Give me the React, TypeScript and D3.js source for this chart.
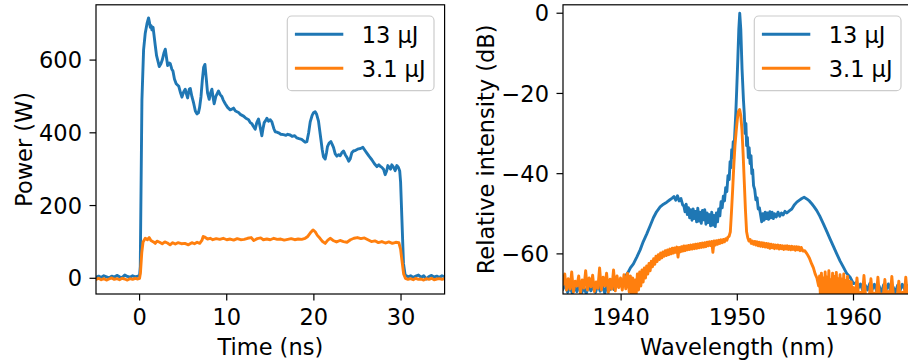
import React from 'react';
import * as d3 from 'd3';

// ---------- data ----------
const timeTicks = [0, 10, 20, 30];
const powerTicks = [0, 200, 400, 600];
const wlTicks = [1940, 1950, 1960];
const dbTicks = [0, -20, -40, -60];
const legendLabels = ['13 μJ', '3.1 μJ'];
const seriesColors = ['#1f77b4', '#ff7f0e'];

// time (ns), power (W) — 13 µJ
const pulseHigh: [number, number][] = [
  [-5, 3], [-4.7, 6], [-4.4, 2], [-4.1, 7], [-3.8, 4], [-3.5, 1], [-3.2, 6], [-2.9, 3], [-2.6, 8], [-2.3, 4],
  [-2.0, 2], [-1.7, 9], [-1.4, 5], [-1.1, 3], [-0.8, 7], [-0.5, 4], [-0.2, 6], [0.0, 8], [0.08, 32], [0.27, 491],
  [0.46, 628], [0.65, 674], [0.85, 700], [1.03, 716], [1.12, 705], [1.23, 690], [1.32, 695], [1.42, 683], [1.55, 690], [1.65, 670],
  [1.8, 640], [1.95, 612], [2.1, 598], [2.26, 582], [2.45, 590], [2.6, 600], [2.8, 620], [2.95, 630], [3.1, 605], [3.22, 585],
  [3.4, 592], [3.52, 590], [3.7, 575], [3.83, 570], [4.0, 548], [4.2, 535], [4.5, 528], [4.7, 510], [4.86, 498], [5.05, 512],
  [5.24, 520], [5.4, 505], [5.51, 496], [5.7, 520], [5.82, 522], [6.0, 500], [6.2, 482], [6.4, 460], [6.58, 452], [6.75, 455],
  [6.89, 470], [7.05, 500], [7.2, 545], [7.35, 580], [7.5, 588], [7.65, 550], [7.8, 510], [7.99, 492], [8.15, 510], [8.3, 520],
  [8.45, 495], [8.56, 480], [8.75, 500], [9.06, 515], [9.25, 505], [9.44, 500], [9.6, 490], [9.83, 480], [10.1, 470], [10.4, 463],
  [10.6, 465], [10.78, 468], [11.0, 460], [11.36, 456], [11.6, 450], [11.93, 446], [12.2, 440], [12.51, 436], [12.7, 428], [12.89, 425],
  [13.05, 418], [13.27, 410], [13.45, 428], [13.65, 438], [13.8, 420], [14.03, 392], [14.15, 410], [14.3, 428], [14.5, 435], [14.61, 440],
  [14.8, 432], [15.0, 436], [15.18, 430], [15.4, 412], [15.56, 403], [15.75, 402], [15.95, 400], [16.2, 396], [16.52, 395], [16.8, 393],
  [17.0, 396], [17.28, 394], [17.5, 390], [17.8, 392], [18.05, 386], [18.3, 384], [18.6, 382], [18.81, 378], [19.0, 374], [19.2, 376],
  [19.4, 400], [19.58, 430], [19.8, 448], [19.96, 455], [20.15, 458], [20.3, 452], [20.53, 432], [20.65, 410], [20.8, 383], [20.95, 355],
  [21.1, 334], [21.3, 328], [21.45, 345], [21.56, 362], [21.75, 372], [21.95, 376], [22.1, 368], [22.25, 360], [22.45, 342], [22.64, 336],
  [22.85, 340], [23.02, 337], [23.2, 345], [23.4, 350], [23.6, 340], [23.78, 333], [24.0, 322], [24.16, 328], [24.35, 345], [24.54, 350],
  [24.8, 352], [25.12, 356], [25.35, 357], [25.62, 360], [25.85, 352], [26.08, 344], [26.35, 335], [26.65, 326], [26.95, 315], [27.23, 307],
  [27.45, 312], [27.61, 308], [27.8, 305], [27.99, 300], [28.18, 285], [28.35, 295], [28.49, 310], [28.65, 305], [28.8, 300], [28.94, 312],
  [29.15, 305], [29.33, 296], [29.52, 310], [29.7, 305], [29.85, 295], [29.95, 265], [30.09, 170], [30.28, 41], [30.47, 9], [30.8, 4],
  [31.1, 7], [31.4, 2], [31.7, 6], [32.0, 9], [32.3, 3], [32.6, 7], [32.9, -2], [33.2, 5], [33.5, 8], [33.8, 3],
  [34.1, 6], [34.4, 2], [34.7, 7], [35, 4],
];

// time (ns), power (W) — 3.1 µJ
const pulseLow: [number, number][] = [
  [-5, -3], [-4.7, 0], [-4.4, -4], [-4.1, -1], [-3.8, -5], [-3.5, -2], [-3.2, 1], [-2.9, -3], [-2.6, -1], [-2.3, -4],
  [-2.0, 0], [-1.7, -2], [-1.4, -5], [-1.1, -1], [-0.8, -3], [-0.5, 0], [-0.2, -2], [0.0, 0], [0.1, 15], [0.25, 70],
  [0.4, 100], [0.65, 110], [0.9, 106], [1.1, 112], [1.3, 104], [1.6, 100], [1.8, 96], [2.0, 102], [2.3, 99], [2.6, 95],
  [2.9, 100], [3.2, 97], [3.5, 92], [3.8, 98], [4.1, 94], [4.4, 98], [4.8, 95], [5.2, 96], [5.6, 92], [6.0, 98],
  [6.3, 95], [6.6, 99], [6.9, 96], [7.15, 104], [7.3, 115], [7.5, 113], [7.8, 108], [8.1, 110], [8.4, 106], [8.8, 109],
  [9.2, 107], [9.6, 110], [10.0, 106], [10.4, 108], [10.8, 105], [11.2, 109], [11.6, 106], [12.0, 107], [12.4, 110], [12.8, 112],
  [13.1, 104], [13.5, 109], [13.9, 111], [14.2, 106], [14.6, 108], [15.0, 106], [15.4, 110], [15.8, 107], [16.2, 108], [16.6, 105],
  [17.0, 107], [17.4, 109], [17.8, 106], [18.2, 108], [18.6, 107], [19.0, 110], [19.3, 115], [19.6, 125], [19.9, 133], [20.15, 128],
  [20.4, 118], [20.7, 110], [21.0, 101], [21.3, 96], [21.6, 105], [21.9, 110], [22.2, 104], [22.6, 100], [23.0, 104], [23.4, 101],
  [23.8, 99], [24.2, 106], [24.6, 110], [25.0, 112], [25.4, 109], [25.8, 111], [26.2, 106], [26.6, 101], [27.0, 103], [27.4, 98],
  [27.8, 101], [28.2, 97], [28.6, 100], [29.0, 96], [29.4, 99], [29.75, 98], [29.95, 80], [30.1, 50], [30.3, 12], [30.5, 0],
  [30.8, -3], [31.1, -1], [31.4, -4], [31.7, 0], [32.0, -3], [32.3, -2], [32.6, -5], [32.9, -1], [33.2, -3], [33.5, 0],
  [33.8, -4], [34.1, -2], [34.4, -1], [34.7, -3], [35, -1],
];

// wavelength (nm), relative intensity (dB) — 13 µJ
const specHigh: [number, number][] = [
  [1935, -68.8], [1935.2, -67.6], [1935.4, -69.6], [1935.6, -68.2], [1935.8, -69.8], [1936, -68.0], [1936.2, -69.4], [1936.4, -67.8],
  [1936.6, -69.7], [1936.8, -68.4], [1937, -69.9], [1937.2, -67.9], [1937.4, -69.2], [1937.6, -68.1], [1937.8, -69.6], [1938, -67.7],
  [1938.2, -69.3], [1938.4, -68.0], [1938.6, -69.8], [1938.8, -67.8], [1939, -69.0], [1939.2, -67.6], [1939.4, -68.9], [1939.6, -67.3],
  [1939.8, -68.2], [1940, -66.9], [1940.2, -66.6], [1940.4, -65.4], [1940.6, -64.6], [1940.8, -63.5], [1941.06, -62.5], [1941.35, -60.8],
  [1941.64, -59], [1941.9, -57], [1942.21, -55], [1942.5, -53], [1942.78, -51], [1943.05, -49.5], [1943.36, -48.3], [1943.65, -47.6],
  [1943.93, -47.1], [1944.2, -46.5], [1944.4, -46.1], [1944.55, -45.7], [1944.7, -46.6], [1944.85, -45.5], [1945.0, -46.8], [1945.15, -46.2],
  [1945.3, -47.8], [1945.4, -48.0], [1945.5, -49.5], [1945.6, -47.6], [1945.7, -50.2], [1945.8, -48.5], [1945.9, -51.0], [1946.0, -49.0],
  [1946.1, -51.6], [1946.2, -48.8], [1946.3, -51.2], [1946.4, -49.4], [1946.5, -52.0], [1946.6, -48.6], [1946.7, -51.8], [1946.8, -49.6],
  [1946.9, -52.4], [1947.0, -49.2], [1947.1, -51.5], [1947.2, -49.0], [1947.3, -52.6], [1947.4, -49.8], [1947.5, -52.2], [1947.6, -50.2],
  [1947.7, -53.0], [1947.8, -49.6], [1947.9, -52.8], [1948.0, -50.4], [1948.1, -53.2], [1948.2, -49.8], [1948.3, -52.0], [1948.4, -48.8],
  [1948.5, -50.5], [1948.6, -47.0], [1948.7, -48.5], [1948.8, -45.6], [1948.9, -46.8], [1949.0, -43.5], [1949.1, -44.5], [1949.2, -40.5],
  [1949.3, -41.5], [1949.38, -37.0], [1949.45, -38.5], [1949.52, -34.0], [1949.58, -36.0], [1949.65, -32.0], [1949.72, -34.0], [1949.8, -29.0],
  [1949.87, -25.0], [1949.95, -19], [1950.05, -11], [1950.13, -4], [1950.21, 0], [1950.3, -4], [1950.41, -14], [1950.53, -21.7],
  [1950.6, -25], [1950.67, -30], [1950.74, -27.5], [1950.8, -33], [1950.87, -31], [1950.95, -36], [1951.02, -33.5], [1951.1, -37.5],
  [1951.18, -35.5], [1951.25, -40], [1951.32, -39], [1951.4, -43], [1951.5, -44.0], [1951.6, -46.5], [1951.7, -46.0], [1951.8, -48.8],
  [1951.9, -48.5], [1952.0, -50.2], [1952.1, -52.0], [1952.2, -50.0], [1952.3, -51.6], [1952.4, -49.6], [1952.5, -51.2], [1952.6, -49.8],
  [1952.7, -51.4], [1952.8, -49.5], [1952.9, -51.0], [1953.0, -49.6], [1953.1, -51.2], [1953.2, -50.0], [1953.35, -50.8], [1953.5, -49.6],
  [1953.65, -50.6], [1953.8, -49.8], [1953.95, -50.3], [1954.1, -49.4], [1954.26, -49.8], [1954.5, -49.2], [1954.69, -48.8], [1954.9, -47.8],
  [1955.12, -47.1], [1955.35, -46.6], [1955.55, -46.2], [1955.75, -45.9], [1955.98, -46.3], [1956.2, -46.8], [1956.41, -47.5], [1956.6, -48.2],
  [1956.84, -49.2], [1957.1, -50.6], [1957.41, -52.5], [1957.7, -54.4], [1957.99, -56.3], [1958.3, -58.3], [1958.56, -60], [1958.85, -61.8],
  [1959.13, -63.3], [1959.4, -64.8], [1959.71, -65.8], [1959.99, -67.4], [1960.2, -67.2], [1960.4, -68.6], [1960.6, -67.5], [1960.8, -69.2],
  [1961.0, -67.8], [1961.2, -69.0], [1961.4, -67.4], [1961.6, -68.9], [1961.8, -67.6], [1962.0, -69.4], [1962.2, -68.0], [1962.4, -69.7],
  [1962.6, -67.7], [1962.8, -69.0], [1963.0, -67.5], [1963.2, -69.3], [1963.4, -68.2], [1963.6, -69.6], [1963.8, -67.8], [1964.0, -69.1],
  [1964.2, -67.6], [1964.4, -68.8], [1964.6, -67.9], [1964.8, -69.2], [1965, -68.4],
];

// wavelength (nm), relative intensity (dB) — 3.1 µJ
const specLow: [number, number][] = [
  [1935, -67.5], [1935.15, -65.0], [1935.3, -69.0], [1935.45, -66.2], [1935.6, -68.8], [1935.75, -64.5], [1935.9, -69.5], [1936.05, -66.8],
  [1936.2, -68.0], [1936.35, -65.5], [1936.5, -69.8], [1936.65, -66.5], [1936.8, -68.5], [1936.95, -64.2], [1937.1, -69.0], [1937.25, -66.0],
  [1937.4, -68.2], [1937.55, -65.3], [1937.7, -69.4], [1937.85, -67.0], [1938, -68.6], [1938.15, -63.5], [1938.3, -69.0], [1938.45, -65.8],
  [1938.6, -68.0], [1938.75, -64.8], [1938.9, -69.6], [1939.05, -66.3], [1939.2, -68.8], [1939.35, -64.0], [1939.5, -69.2], [1939.65, -65.5],
  [1939.8, -68.4], [1939.95, -66.0], [1940.1, -69.0], [1940.25, -65.2], [1940.4, -68.7], [1940.55, -64.8], [1940.7, -69.5], [1940.8, -65.5],
  [1940.9, -70.5], [1941.0, -66.0], [1941.1, -71], [1941.2, -66.5], [1941.3, -70], [1941.4, -65.0], [1941.5, -69], [1941.6, -64.5],
  [1941.7, -68], [1941.8, -64.0], [1941.9, -67], [1942.0, -63.5], [1942.1, -66.0], [1942.2, -63.0], [1942.3, -65.0], [1942.4, -62.4],
  [1942.5, -64.2], [1942.6, -61.8], [1942.7, -63.2], [1942.8, -61.2], [1942.9, -62.6], [1943.0, -60.6], [1943.1, -61.9], [1943.2, -60.2],
  [1943.3, -61.4], [1943.4, -59.8], [1943.5, -61.0], [1943.6, -59.5], [1943.7, -60.6], [1943.8, -59.2], [1943.9, -60.4], [1944.0, -59.0],
  [1944.1, -60.2], [1944.2, -58.8], [1944.3, -60.0], [1944.4, -58.6], [1944.5, -59.8], [1944.6, -58.5], [1944.7, -59.6], [1944.8, -58.3],
  [1944.9, -60.8], [1945.0, -58.4], [1945.1, -59.5], [1945.2, -58.2], [1945.3, -59.3], [1945.4, -58.0], [1945.5, -59.2], [1945.6, -58.0],
  [1945.7, -59.0], [1945.8, -57.9], [1945.9, -58.9], [1946.0, -57.8], [1946.1, -58.8], [1946.2, -57.7], [1946.3, -58.7], [1946.4, -57.6],
  [1946.5, -58.6], [1946.6, -57.5], [1946.7, -58.5], [1946.8, -57.4], [1946.9, -58.4], [1947.0, -57.3], [1947.1, -58.3], [1947.2, -57.2],
  [1947.3, -58.2], [1947.4, -57.1], [1947.5, -58.0], [1947.6, -57.0], [1947.7, -57.9], [1947.8, -56.9], [1947.9, -59.6], [1948.0, -56.8],
  [1948.1, -57.8], [1948.2, -56.7], [1948.3, -57.6], [1948.4, -56.6], [1948.5, -57.4], [1948.6, -56.5], [1948.7, -57.2], [1948.8, -56.4],
  [1948.9, -57.0], [1949.0, -56.2], [1949.1, -56.6], [1949.2, -55.8], [1949.3, -55.6], [1949.4, -54.5], [1949.5, -49.5],
  [1949.6, -44], [1949.7, -38], [1949.8, -33], [1949.9, -29.5], [1950.0, -26.5], [1950.1, -24.5], [1950.2, -24.0], [1950.3, -25.5],
  [1950.4, -29], [1950.5, -35], [1950.6, -42], [1950.7, -49], [1950.8, -54.5], [1950.9, -56.0], [1951.0, -56.8], [1951.1, -56.4],
  [1951.2, -57.4], [1951.3, -56.8], [1951.4, -57.6], [1951.5, -56.9], [1951.6, -57.8], [1951.7, -57.0], [1951.8, -58.0], [1951.9, -57.1],
  [1952.0, -58.1], [1952.1, -57.2], [1952.2, -58.2], [1952.3, -57.3], [1952.4, -58.3], [1952.5, -57.4], [1952.6, -58.4], [1952.7, -57.5],
  [1952.8, -58.6], [1952.9, -57.6], [1953.0, -58.5], [1953.1, -57.7], [1953.2, -58.7], [1953.3, -57.8], [1953.4, -58.6], [1953.5, -57.8],
  [1953.6, -58.8], [1953.7, -57.9], [1953.8, -58.7], [1953.9, -58.0], [1954.0, -58.9], [1954.1, -58.0], [1954.2, -58.8], [1954.3, -58.0],
  [1954.4, -58.9], [1954.5, -58.1], [1954.6, -59.0], [1954.7, -58.1], [1954.8, -58.9], [1954.9, -58.2], [1955.0, -59.1], [1955.1, -58.2],
  [1955.2, -59.0], [1955.3, -58.3], [1955.4, -59.2], [1955.5, -58.4], [1955.65, -59.3], [1955.8, -59.2], [1956.0, -60.0], [1956.2, -61.0],
  [1956.4, -62.5], [1956.55, -63.5], [1956.7, -65.0], [1956.85, -66.0], [1957.0, -68.0], [1957.08, -65.5], [1957.16, -71], [1957.24, -64.8],
  [1957.32, -70.5], [1957.4, -66.0], [1957.48, -71], [1957.56, -64.5], [1957.64, -70.8], [1957.72, -65.8], [1957.8, -71], [1957.88, -64.2],
  [1957.96, -70.4], [1958.04, -66.5], [1958.12, -71], [1958.2, -64.8], [1958.28, -70.2], [1958.36, -65.6], [1958.44, -71], [1958.52, -64.6],
  [1958.6, -70.6], [1958.68, -66.2], [1958.76, -71], [1958.84, -65.2], [1958.92, -70.0], [1959.0, -66.3], [1959.08, -71], [1959.16, -65.0],
  [1959.24, -70.8], [1959.32, -66.6], [1959.4, -71], [1959.48, -65.6], [1959.56, -70.3], [1959.64, -66.8], [1959.72, -71], [1959.8, -67.0],
  [1959.9, -71], [1960.0, -68.4], [1960.15, -71], [1960.3, -66.0], [1960.45, -71], [1960.6, -69.6], [1960.75, -71], [1960.9, -65.4],
  [1961.05, -71], [1961.2, -70.2], [1961.35, -71], [1961.5, -66.2], [1961.65, -71], [1961.8, -69.8], [1961.95, -71], [1962.1, -65.8],
  [1962.25, -71], [1962.4, -70.0], [1962.55, -71], [1962.7, -66.4], [1962.85, -71], [1963.0, -69.4], [1963.15, -71], [1963.3, -65.6],
  [1963.45, -71], [1963.6, -70.2], [1963.75, -71], [1963.9, -66.8], [1964.05, -71], [1964.2, -69.6], [1964.35, -71], [1964.5, -65.8],
  [1964.65, -71], [1964.8, -70.0], [1964.95, -71],
];

// ---------- drawing ----------
const FONT = "'DejaVu Sans', sans-serif";
const FS = 22.5;
const TICK = 6.5;

type PanelProps = {
  id: string;
  left: number; right: number; top: number; bottom: number;
  xDomain: [number, number]; yDomain: [number, number];
  xTicks: number[]; yTicks: number[];
  xLabel: string; yLabel: string; yLabelX: number; xLabelY: number;
  series: [number, number][][];
};

const fmt = (v: number) => (v < 0 ? '\u2212' + Math.abs(v) : String(v));

function Panel(p: PanelProps) {
  const x = d3.scaleLinear().domain(p.xDomain).range([p.left, p.right]);
  const y = d3.scaleLinear().domain(p.yDomain).range([p.bottom, p.top]);
  const line = d3.line<[number, number]>().x((d) => x(d[0])).y((d) => y(d[1]));
  const legW = 146.7, legH = 74.7;
  const legLeft = p.right - 10.6 - legW;
  const legTop = p.top + 11.2;
  return (
    <g>
      <defs>
        <clipPath id={p.id}>
          <rect x={p.left} y={p.top} width={p.right - p.left} height={p.bottom - p.top} />
        </clipPath>
      </defs>
      <g clipPath={`url(#${p.id})`}>
        {p.series.map((s, i) => (
          <path key={i} d={line(s) || ''} fill="none" stroke={seriesColors[i]} strokeWidth={2.9}
            strokeLinejoin="round" strokeLinecap="square" />
        ))}
      </g>
      <rect x={p.left} y={p.top} width={p.right - p.left} height={p.bottom - p.top}
        fill="none" stroke="#000" strokeWidth={1.2} />
      {p.xTicks.map((t) => (
        <g key={'x' + t}>
          <line x1={x(t)} x2={x(t)} y1={p.bottom} y2={p.bottom + TICK} stroke="#000" strokeWidth={1.2} />
          <text x={x(t)} y={325} textAnchor="middle" fontFamily={FONT} fontSize={FS} fill="#000">{fmt(t)}</text>
        </g>
      ))}
      {p.yTicks.map((t) => (
        <g key={'y' + t}>
          <line x1={p.left - TICK} x2={p.left} y1={y(t)} y2={y(t)} stroke="#000" strokeWidth={1.2} />
          <text x={p.left - 14} y={y(t)} dy="0.3645em" textAnchor="end" fontFamily={FONT} fontSize={FS} fill="#000">{fmt(t)}</text>
        </g>
      ))}
      <text x={(p.left + p.right) / 2} y={p.xLabelY} textAnchor="middle" fontFamily={FONT} fontSize={FS} fill="#000">{p.xLabel}</text>
      <text transform={`translate(${p.yLabelX},${(p.top + p.bottom) / 2}) rotate(-90)`} textAnchor="middle"
        fontFamily={FONT} fontSize={FS} fill="#000">{p.yLabel}</text>
      <g>
        <rect x={legLeft} y={legTop} width={legW} height={legH} rx={4.5} ry={4.5}
          fill="#fff" fillOpacity={0.8} stroke="#cccccc" strokeWidth={1.2} />
        {legendLabels.map((lab, i) => {
          const ry = legTop + 18.3 + i * 34;
          return (
            <g key={lab}>
              <line x1={legLeft + 7.6} x2={legLeft + 56} y1={ry} y2={ry} stroke={seriesColors[i]} strokeWidth={2.9} />
              <text x={legLeft + 74.4} y={ry + 9} fontFamily={FONT} fontSize={FS} fill="#000">{lab}</text>
            </g>
          );
        })}
      </g>
    </g>
  );
}

export default function App() {
  return (
    <svg width={908} height={360} viewBox="0 0 908 360"
      style={{ position: 'absolute', left: 0, top: 0, background: '#fff' }}>
      <rect x={0} y={0} width={908} height={360} fill="#fff" />
      <Panel id="clipL" left={96} right={444.6} top={4.8} bottom={294}
        xDomain={[-5, 35]} yDomain={[-43.2, 752]} xTicks={timeTicks} yTicks={powerTicks}
        xLabel="Time (ns)" yLabel="Power (W)" yLabelX={31.5} xLabelY={355}
        series={[pulseHigh, pulseLow]} />
      <Panel id="clipR" left={563} right={911.6} top={4.8} bottom={294}
        xDomain={[1935, 1965]} yDomain={[-70, 2.1]} xTicks={wlTicks} yTicks={dbTicks}
        xLabel="Wavelength (nm)" yLabel="Relative intensity (dB)" yLabelX={493.5} xLabelY={354.5}
        series={[specHigh, specLow]} />
    </svg>
  );
}
